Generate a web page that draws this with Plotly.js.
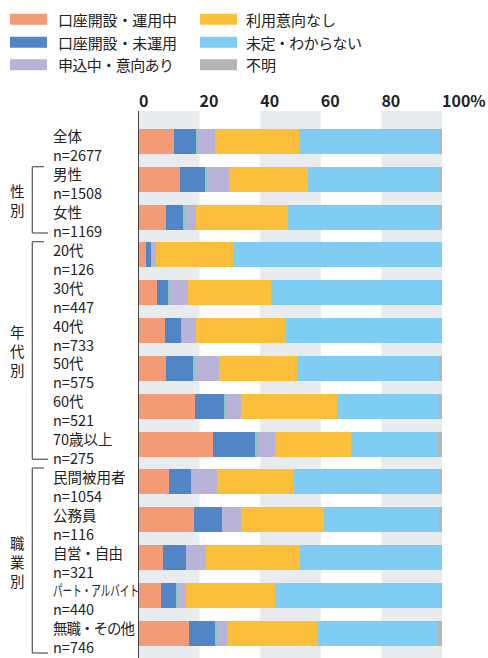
<!DOCTYPE html>
<html><head><meta charset="utf-8">
<script src="https://cdn.plot.ly/plotly-3.0.1.min.js"></script>
<style>html,body{margin:0;padding:0;background:#fff}#chart{width:488px;height:658px}</style>
</head><body><div id="chart"></div>
<script>
const categories = ['全体','男性','女性','20代','30代','40代','50代','60代','70歳以上','民間被用者','公務員','自営・自由','パート・アルバイト','無職・その他'];
const sampleSizes = ['n=2677','n=1508','n=1169','n=126','n=447','n=733','n=575','n=521','n=275','n=1054','n=116','n=321','n=440','n=746'];
const groupLabels = ['性別','年代別','職業別'];
const tickValues = [0,20,40,60,80,100];
const tickLabels = ['0','20','40','60','80','100%'];

const seriesNames = ['口座開設・運用中','口座開設・未運用','その他','申込中・意向あり','利用意向なし','未定・わからない','不明'];
const activeUse    = [11.6,13.4,8.9,2.4,5.9,8.6,8.9,18.5,24.3,10.0,18.1,8.0,7.2,16.4];
const openedUnused = [7.2,8.4,5.7,1.6,3.6,5.2,8.9,9.4,14.0,7.0,9.4,7.4,4.9,8.7];
const otherResp    = [0.5,0.6,0.5,0,0.4,0.4,0.6,0.7,1.1,0.5,0,0,0.5,0.5];
const applying     = [5.8,7.3,3.8,1.6,6.4,4.7,8.0,5.0,5.5,8.4,6.0,6.8,3.0,3.5];
const noIntent     = [27.8,26.0,30.4,25.3,27.1,29.4,25.6,31.6,25.0,25.3,27.6,31.0,29.2,29.5];
const undecided    = [46.3,43.6,49.9,69.1,56.2,51.7,46.9,33.8,28.8,48.2,37.8,46.8,54.8,40.0];
const unknown      = [0.8,0.7,0.8,0,0.4,0,1.1,1.0,1.3,0.6,1.1,0,0.4,1.4];

const seriesValues = [activeUse, openedUnused, otherResp, applying, noIntent, undecided, unknown];
const colors = ['#F39B77','#5285C6','#86CBB8','#BAB3D9','#FBBF3C','#7FCDF2','#B4B4B4'];
const legendOrder = [0,4,1,5,3,6]; // series shown in custom legend (two columns)

// plot area in pixels
const L = 139, R = 442, T = 111, B = 658;
const px = x => (x - L) / (R - L);
const py = y => (B - y) / (B - T);
const FONT = '"Noto Sans CJK JP", "Noto Sans", sans-serif';

const traces = seriesValues.map((vals, k) => ({
  type: 'bar', orientation: 'h', name: seriesNames[k],
  y: categories, x: vals, width: 0.66,
  marker: {color: colors[k], line: {width: 0}},
  showlegend: false, hoverinfo: 'skip'
}));

const shapes = [];
[[0,20],[40,60],[80,100]].forEach(([a,b]) => shapes.push({
  type:'rect', xref:'x', yref:'paper', x0:a, x1:b, y0:0, y1:1,
  fillcolor:'#E9ECEF', line:{width:0}, layer:'below'
}));
const brackets = [[166.7,233],[241.7,459.3],[468,653]];
brackets.forEach(([t,b]) => {
  const lc = {color:'#555', width:1.2};
  shapes.push({type:'line', xref:'paper', yref:'paper', x0:px(32.3), x1:px(32.3), y0:py(t), y1:py(b), line:lc});
  shapes.push({type:'line', xref:'paper', yref:'paper', x0:px(32.3), x1:px(44), y0:py(t), y1:py(t), line:lc});
  shapes.push({type:'line', xref:'paper', yref:'paper', x0:px(32.3), x1:px(48), y0:py(b), y1:py(b), line:lc});
});

const annotations = [];
categories.forEach((c, i) => {
  annotations.push({xref:'paper', yref:'y', x:px(51), y:c, xanchor:'left', yanchor:'middle', yshift:-4, align:'left',
    text:c + '<br>' + sampleSizes[i], showarrow:false, font:{family:FONT, size:14.5, color:'#222'}});
});
const groupCenters = [199.6, 350.5, 561.5];
groupLabels.forEach((g, gi) => {
  annotations.push({xref:'paper', yref:'paper', x:px(17.5), y:py(groupCenters[gi]),
    xanchor:'center', yanchor:'middle', text:[...g].join('<br>'), showarrow:false,
    font:{family:FONT, size:14.5, color:'#222'}});
});
const legX = [[10,47,56],[200,237,244]];
const legY = [19.2,42.2,64.7];
legendOrder.forEach((k, n) => {
  const col = n % 2, row = Math.floor(n / 2);
  const [x0,x1,tx] = legX[col];
  shapes.push({type:'rect', xref:'paper', yref:'paper', x0:px(x0), x1:px(x1), y0:py(legY[row]+5.5), y1:py(legY[row]-5.5),
    fillcolor:colors[k], line:{width:0}});
  annotations.push({xref:'paper', yref:'paper', x:px(tx), y:py(legY[row]), xanchor:'left', yanchor:'middle', align:'left',
    text:seriesNames[k], showarrow:false, font:{family:FONT, size:15, color:'#222'}});
});

const layout = {
  width:488, height:658, margin:{l:L, r:488-R, t:T, b:658-B},
  paper_bgcolor:'#fff', plot_bgcolor:'rgba(0,0,0,0)',
  barmode:'stack', showlegend:false,
  xaxis:{range:[0,100], side:'top', tickvals:tickValues, ticktext:tickLabels, ticks:'',
    ticklabelposition:'outside right', showgrid:false, zeroline:false, fixedrange:true,
    tickfont:{family:FONT, size:16, color:'#222', weight:'bold'}, ticklabelstandoff:0},
  yaxis:{type:'category', categoryorder:'array', categoryarray:categories,
    range:[13.657,-0.806], showticklabels:false, ticks:'', showgrid:false, zeroline:false,
    showline:true, linecolor:'#444', linewidth:1.5, fixedrange:true},
  shapes, annotations
};

// text widths (px) measured on the reference, for labels set in proportional spacing
const fitWidths = {
  '口座開設・運用中':[119,'spacing'], '口座開設・未運用':[119,'spacing'],
  '申込中・意向あり':[116,'spacing'], '未定・わからない':[116,'spacing'],
  '自営・自由':[70,'spacing'], '無職・その他':[82,'spacing'],
  'パート・アルバイト':[86,'spacingAndGlyphs']
};

Plotly.newPlot('chart', traces, layout, {staticPlot:true, displayModeBar:false}).then(() => {
  document.querySelectorAll('.annotation-text, .annotation-text tspan').forEach(el => {
    const f = fitWidths[el.textContent];
    if (!f) return;
    const bb = el.getBBox();
    el.setAttribute('textLength', String(f[0]));
    el.setAttribute('lengthAdjust', f[1]);
    const nb = el.getBBox();
    if (Math.abs(bb.x - nb.x) > 0.5) {
      el.setAttribute('x', parseFloat(el.getAttribute('x') || 0) + (bb.x - nb.x));
    }
  });
});
</script>
</body></html>
